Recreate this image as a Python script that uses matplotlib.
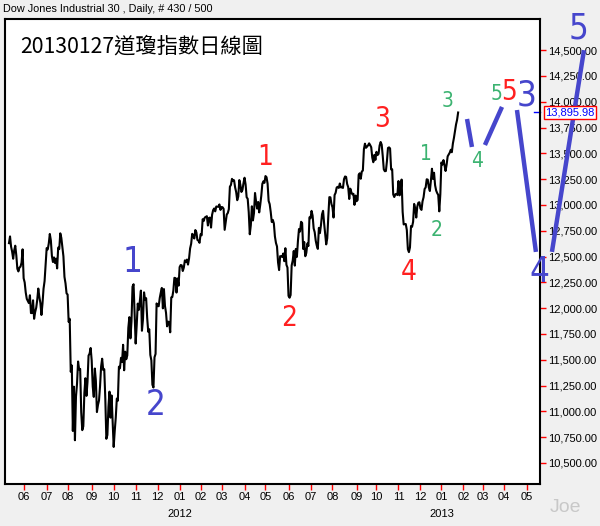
import numpy as np
import pandas as pd
import matplotlib
matplotlib.use('Agg')
import matplotlib.pyplot as plt
from matplotlib.transforms import blended_transform_factory

# DJIA daily closes, 2011-05-11 .. 2013-01-25 (430 bars)
closes = [
    # 2011-05
    12630, 12695, 12596, 12548, 12479, 12560, 12605, 12512, 12381, 12356, 12394, 12402, 12441, 12570,
    # 2011-06
    12290, 12249, 12152, 12090, 12070, 12049, 12125, 11952, 11953, 12076, 11897, 11962, 12004, 12081,
    12190, 12110, 12050, 11934, 12043, 12188, 12262, 12414,
    # 2011-07
    12582, 12569, 12626, 12719, 12657, 12505, 12447, 12492, 12437, 12480, 12385, 12587, 12572, 12725,
    12681, 12592, 12502, 12303, 12240, 12143,
    # 2011-08
    12132, 11867, 11897, 11384, 11445, 10810, 11239, 10720, 11144, 11269, 11483, 11406, 11411, 10991,
    10818, 10855, 11177, 11321, 11150, 11285, 11540, 11560, 11614,
    # 2011-09
    11494, 11240, 11140, 11415, 11296, 10993, 11062, 11106, 11247, 11434, 11510, 11401, 11408, 11125,
    10734, 10771, 11044, 11191, 10939, 11154, 10913,
    # 2011-10
    10655, 10809, 10940, 11124, 11103, 11433, 11417, 11519, 11478, 11645, 11398, 11578, 11505, 11542,
    11809, 11913, 11707, 11870, 12209, 12232, 11955,
    # 2011-11
    11657, 11836, 12044, 11983, 12069, 12170, 11781, 11894, 12153, 12079, 12097, 11906, 11771, 11796,
    11547, 11494, 11258, 11231, 11524, 11556, 12046,
    # 2011-12
    12020, 12019, 12098, 12151, 12196, 11998, 12185, 12021, 11955, 11824, 11869, 11866, 11766, 12104,
    12108, 12170, 12294, 12291, 12151, 12288, 12218,
    # 2012-01
    12398, 12418, 12415, 12360, 12393, 12463, 12449, 12471, 12422, 12482, 12579, 12624, 12720, 12708,
    12675, 12757, 12735, 12660, 12654, 12633,
    # 2012-02
    12716, 12706, 12862, 12845, 12878, 12884, 12891, 12801, 12874, 12878, 12781, 12905, 12950, 12966,
    12938, 12985, 12983, 12982, 13005, 12952,
    # 2012-03
    12980, 12978, 12962, 12759, 12837, 12907, 12922, 12959, 13177, 13194, 13253, 13233, 13239, 13170,
    13125, 13046, 13081, 13241, 13197, 13126, 13146, 13212,
    # 2012-04
    13264, 13199, 13075, 13060, 12930, 12716, 12805, 12987, 12850, 12921, 13116, 13033, 12965, 13029,
    12928, 13002, 13090, 13205, 13229, 13214,
    # 2012-05
    13280, 13269, 13207, 13039, 13008, 12932, 12835, 12855, 12821, 12695, 12632, 12598, 12443, 12369,
    12504, 12502, 12497, 12530, 12455, 12581, 12420, 12393,
    # 2012-06
    12119, 12101, 12127, 12414, 12461, 12554, 12412, 12574, 12497, 12652, 12767, 12742, 12837, 12825,
    12574, 12641, 12503, 12535, 12627, 12602, 12880,
    # 2012-07
    12871, 12943, 12897, 12773, 12736, 12653, 12605, 12574, 12778, 12727, 12806, 12909, 12943, 12823,
    12722, 12618, 12677, 12888, 13076, 13074, 13009,
    # 2012-08
    12977, 12878, 13096, 13118, 13169, 13176, 13165, 13208, 13170, 13173, 13165, 13250, 13276, 13272,
    13203, 13173, 13058, 13158, 13124, 13103, 13108, 13001, 13091,
    # 2012-09
    13036, 13048, 13292, 13307, 13254, 13324, 13333, 13540, 13594, 13554, 13565, 13578, 13597, 13580,
    13559, 13458, 13414, 13486, 13437,
    # 2012-10
    13515, 13483, 13495, 13576, 13610, 13584, 13474, 13345, 13327, 13329, 13425, 13552, 13558, 13548,
    13344, 13346, 13102, 13077, 13104, 13107, 13096,
    # 2012-11
    13232, 13093, 13112, 13246, 12933, 12811, 12815, 12815, 12757, 12571, 12543, 12589, 12796, 12788,
    12837, 13010, 12967, 12878, 12985, 13022, 13026,
    # 2012-12
    12966, 12952, 13035, 13075, 13155, 13170, 13249, 13245, 13171, 13135, 13236, 13351, 13252, 13312,
    13191, 13140, 13115, 13097, 12938, 13104,
    # 2013-01
    13412, 13391, 13435, 13385, 13329, 13390, 13471, 13488, 13507, 13535, 13511, 13596, 13650, 13712,
    13780, 13825, 13895.98,
]

# NYSE holidays for the trading calendar
holidays = ['2011-05-30', '2011-07-04', '2011-09-05', '2011-11-24', '2011-12-26',
            '2012-01-02', '2012-01-16', '2012-02-20', '2012-04-06', '2012-05-28',
            '2012-07-04', '2012-09-03', '2012-10-29', '2012-10-30', '2012-11-22',
            '2012-12-25', '2013-01-01', '2013-01-21', '2013-02-18', '2013-03-29',
            '2013-05-27']

# Elliott wave forecast strokes (bar index, price)
wave_segments = [
    ([437.5, 442.2], [13833, 13562]),
    ([454.6, 470.9], [13581, 13950]),
    ([485.2, 503.3], [13920, 12545]),
    ([518.6, 549.2], [12545, 14500]),
]

# wave labels: (text, bar index, price)
blue_labels = [('1', 118.4, 12449), ('2', 140.4, 11065), ('3', 494, 14063),
               ('4', 506.2, 12350), ('5', 543.5, 14712)]
red_labels = [('1', 244.5, 13465), ('2', 267.4, 11907), ('3', 356.3, 13830),
              ('4', 382, 12351), ('5', 477.3, 14093)]
green_labels = [('1', 398.3, 13492), ('2', 408.8, 12757), ('3', 419.3, 14005),
                ('4', 447, 13425), ('5', 465.3, 14073)]

yticks = np.arange(10500, 14501, 250)

cal = pd.bdate_range('2011-05-11', '2013-05-31', freq='C', holidays=holidays)
month_pos = []
month_lab = []
year_pos = []
prev = None
for i, d in enumerate(cal):
    if prev is not None and d.month != prev.month:
        month_pos.append(i)
        month_lab.append('%02d' % d.month)
        if d.month == 1:
            year_pos.append((i, str(d.year)))
    prev = d

x = np.arange(len(closes))

fig = plt.figure(figsize=(6, 5.26), dpi=100, facecolor='#F0F0F0')
ax = fig.add_axes([5 / 600, 42 / 526, 535 / 600, 465 / 526])
ax.set_facecolor('white')

ax.plot(x, closes, color='black', lw=1.5)

blue = '#4646CC'
for sx, sy in wave_segments:
    ax.plot(sx, sy, color=blue, lw=3.2, solid_capstyle='butt', clip_on=False)

for lab, col, fs in [(blue_labels, blue, 25), (red_labels, '#FF2020', 20),
                     (green_labels, '#3CB371', 15)]:
    for t, lx, ly in lab:
        ax.text(lx, ly, t, color=col, fontsize=fs, ha='center', va='center',
                family='DejaVu Sans', fontstretch='condensed', clip_on=False)

ax.set_xlim(-3.8, 507.2)
ax.set_ylim(10296, 14802)

ax.yaxis.tick_right()
ax.set_yticks(yticks)
ax.set_yticklabels(['{:,.2f}'.format(v) for v in yticks])
ax.set_xticks(month_pos)
ax.set_xticklabels(month_lab)
ax.tick_params(axis='both', colors='red', length=4, width=1, labelcolor='black',
               labelsize=8, pad=2)
for lbl in ax.get_xticklabels() + ax.get_yticklabels():
    lbl.set_family('Liberation Sans')
ax.tick_params(axis='x', pad=1.5)

for s in ax.spines.values():
    s.set_color('black')
    s.set_linewidth(1.5)

tr = blended_transform_factory(ax.transData, ax.transAxes)
for xp, yr in year_pos:
    ax.text(xp, -0.065, yr, transform=tr, ha='center', va='center', fontsize=8,
            family='Liberation Sans')

# last price box
ax.plot([1.0 - 0.012, 1.0], [13896, 13896], color='blue', lw=1,
        transform=blended_transform_factory(ax.transAxes, ax.transData), clip_on=False)
ax.text(1.01, 13896, '{:,.2f}'.format(closes[-1]), color='blue', fontsize=8,
        family='Liberation Sans', va='center', ha='left',
        transform=blended_transform_factory(ax.transAxes, ax.transData),
        bbox=dict(boxstyle='square,pad=0.15', fc='white', ec='red', lw=1))

fig.text(3 / 600, 1 - 9 / 526, 'Dow Jones Industrial 30 , Daily, # 430 / 500',
         fontsize=7.8, family='Liberation Sans', va='center', ha='left')
fig.text(20 / 600, 1 - 47 / 526, '20130127道瓊指數日線圖', fontsize=15.3,
         family=['Noto Sans CJK TC', 'DejaVu Sans'], va='center', ha='left')
fig.text(565 / 600, 1 - 508 / 526, 'Joe', fontsize=14, color='#C8C8C8',
         family='Liberation Sans', va='center', ha='center')

fig.savefig('out.png', dpi=100, facecolor=fig.get_facecolor())
